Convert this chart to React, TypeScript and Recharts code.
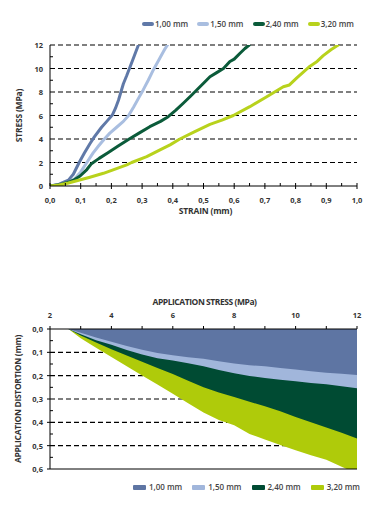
import React from 'react';
import {
  LineChart, Line, AreaChart, Area, XAxis, YAxis, CartesianGrid, ReferenceLine,
} from 'recharts';

// ---------- Top chart: stress vs strain ----------
const seriesNames = ['1,00 mm', '1,50 mm', '2,40 mm', '3,20 mm'];
const lineColors = ['#6079A8', '#A9BEE0', '#0B5B3A', '#B8D21C'];
const areaColors = ['#5E75A3', '#A1B6DB', '#004B33', '#AFCB0A'];

const curve100 = [
  [0, 0], [0.03, 0.15], [0.06, 0.5], [0.076, 1.0], [0.095, 2.0], [0.112, 2.8], [0.13, 3.6],
  [0.145, 4.2], [0.168, 5.0], [0.185, 5.5], [0.203, 6.04], [0.213, 6.6], [0.223, 7.3],
  [0.231, 8.0], [0.239, 8.7], [0.25, 9.4], [0.261, 10.15], [0.275, 11.1], [0.288, 12],
];
const curve150 = [
  [0, 0], [0.04, 0.15], [0.06, 0.3], [0.08, 0.6], [0.1, 1.2], [0.12, 2.0], [0.14, 2.8],
  [0.158, 3.4], [0.177, 4.0], [0.195, 4.5], [0.217, 5.0], [0.239, 5.5], [0.256, 6.0],
  [0.273, 6.75], [0.289, 7.5], [0.304, 8.2], [0.32, 9.0], [0.337, 9.9], [0.358, 10.9],
  [0.375, 11.7], [0.383, 12],
];
const curve240 = [
  [0, 0], [0.03, 0.1], [0.065, 0.37], [0.08, 0.55], [0.098, 0.85], [0.12, 1.4], [0.135, 1.9],
  [0.16, 2.35], [0.19, 2.85], [0.222, 3.4], [0.258, 4.0], [0.29, 4.5], [0.325, 5.05],
  [0.36, 5.5], [0.385, 5.9], [0.41, 6.45], [0.434, 7.04], [0.456, 7.6], [0.478, 8.17],
  [0.5, 8.75], [0.521, 9.3], [0.543, 9.65], [0.565, 10.0], [0.586, 10.6], [0.6, 10.8],
  [0.619, 11.3], [0.635, 11.7], [0.649, 12],
];
const curve320 = [
  [0, 0], [0.03, 0.08], [0.06, 0.25], [0.087, 0.45], [0.13, 0.75], [0.174, 1.08], [0.21, 1.42],
  [0.25, 1.8], [0.266, 2.0], [0.315, 2.5], [0.36, 3.1], [0.391, 3.5], [0.423, 4.0],
  [0.47, 4.6], [0.521, 5.25], [0.56, 5.6], [0.597, 6.0], [0.651, 6.75], [0.706, 7.6],
  [0.76, 8.45], [0.78, 8.6], [0.804, 9.2], [0.847, 10.2], [0.87, 10.6], [0.89, 11.1],
  [0.915, 11.6], [0.939, 12],
];
const strainCurves = [curve100, curve150, curve240, curve320];

const strainTicks = [
  0, 0.05, 0.1, 0.15, 0.2, 0.25, 0.3, 0.35, 0.4, 0.45, 0.5,
  0.55, 0.6, 0.65, 0.7, 0.75, 0.8, 0.85, 0.9, 0.95, 1.0,
];
const stressTicks = [0, 1, 2, 3, 4, 5, 6, 7, 8, 9, 10, 11, 12];
const stressGrid = [2, 4, 6, 8, 10, 12];

// ---------- Bottom chart: distortion vs application stress ----------
const appStress = [2.6, 3, 3.5, 4, 4.5, 5, 5.5, 6, 6.5, 7, 7.5, 8, 8.5, 9, 9.5, 10, 10.5, 11, 11.5, 12];
const dist100 = [0, 0.016, 0.036, 0.055, 0.073, 0.089, 0.103, 0.113, 0.121, 0.128, 0.138, 0.148, 0.155, 0.16, 0.167, 0.174, 0.181, 0.187, 0.192, 0.197];
const dist150 = [0, 0.022, 0.048, 0.068, 0.09, 0.109, 0.125, 0.135, 0.147, 0.16, 0.176, 0.19, 0.201, 0.21, 0.217, 0.224, 0.231, 0.237, 0.245, 0.254];
const dist240 = [0, 0.028, 0.058, 0.087, 0.114, 0.14, 0.167, 0.193, 0.222, 0.25, 0.272, 0.291, 0.312, 0.331, 0.353, 0.377, 0.4, 0.422, 0.445, 0.469];
const dist320 = [0, 0.04, 0.08, 0.12, 0.16, 0.199, 0.238, 0.277, 0.318, 0.358, 0.39, 0.413, 0.45, 0.474, 0.497, 0.52, 0.541, 0.56, 0.59, 0.62];

const appStressTicks = [2, 3, 4, 5, 6, 7, 8, 9, 10, 11, 12];
const distTicks = [0, 0.05, 0.1, 0.15, 0.2, 0.25, 0.3, 0.35, 0.4, 0.45, 0.5, 0.55, 0.6];
const distGrid = [0.1, 0.2, 0.3, 0.4, 0.5];

const areaData = appStress.map((s, i) => ({
  stress: s,
  d0: dist100[i],
  d1: dist150[i],
  d2: dist240[i],
  d3: dist320[i],
}));

// ---------- styling ----------
const FONT = '"Open Sans", "Noto Sans", sans-serif';
const TXT = '#333';
const fmt1 = (v: number) => v.toFixed(1).replace('.', ',');
const isTenth = (v: number) => Math.round(v * 100) % 10 === 0;

const tickText = { fontFamily: FONT, fontSize: 7.5, fontWeight: 700, fill: TXT } as const;

const StrainTick = (p: any) => {
  const { x, y, payload } = p;
  const v = payload.value as number;
  const major = isTenth(v);
  return (
    <g>
      <line x1={x} x2={x} y1={y - 3} y2={major ? y + 3 : y} stroke="#000" strokeWidth={1} />
      {major && (
        <text x={x} y={y + 17} textAnchor="middle" style={tickText}>
          {fmt1(v)}
        </text>
      )}
    </g>
  );
};

const StressTick = (p: any) => {
  const { x, y, payload } = p;
  const v = payload.value as number;
  const major = v % 2 === 0;
  return (
    <g>
      {major ? (
        <text x={x - 7} y={y + 3} textAnchor="end" style={tickText}>
          {v}
        </text>
      ) : (
        <line x1={x} x2={x + 3} y1={y} y2={y} stroke="#000" strokeWidth={1} />
      )}
    </g>
  );
};

const AppStressTick = (p: any) => {
  const { x, y, payload } = p;
  const v = payload.value as number;
  const major = v % 2 === 0;
  return (
    <g>
      <line x1={x} x2={x} y1={y} y2={y - 3} stroke="#000" strokeWidth={1} />
      {major && (
        <text x={x} y={y - 11} textAnchor="middle" style={tickText}>
          {v}
        </text>
      )}
    </g>
  );
};

const DistTick = (p: any) => {
  const { x, y, payload } = p;
  const v = payload.value as number;
  const major = isTenth(v);
  return (
    <g>
      {major ? (
        <>
          <line x1={x - 3} x2={x} y1={y} y2={y} stroke="#000" strokeWidth={1} />
          <text x={x - 7} y={y + 3} textAnchor="end" style={tickText}>
            {fmt1(v)}
          </text>
        </>
      ) : (
        <line x1={x} x2={x + 3} y1={y} y2={y} stroke="#000" strokeWidth={1} />
      )}
    </g>
  );
};

const titleStyle = {
  fontFamily: FONT,
  fontSize: 8.5,
  fontWeight: 700,
  fill: TXT,
  letterSpacing: -0.2,
} as const;

const LegendRow = ({ top, left, kind }: { top: number; left: number; kind: 'line' | 'rect' }) => (
  <div
    style={{
      position: 'absolute',
      top,
      left,
      display: 'flex',
      alignItems: 'center',
      fontFamily: FONT,
      fontSize: 8,
      fontWeight: 600,
      color: '#444',
      whiteSpace: 'nowrap',
      lineHeight: '10px',
    }}
  >
    {seriesNames.map((n, i) => (
      <div key={n} style={{ display: 'flex', alignItems: 'center', marginRight: i < 3 ? (kind === 'line' ? 9 : 10) : 0 }}>
        <span
          style={{
            display: 'inline-block',
            width: kind === 'line' ? 12 : 13,
            height: kind === 'line' ? 4 : 5,
            borderRadius: kind === 'line' ? 2 : 1,
            background: kind === 'line' ? lineColors[i] : areaColors[i],
            marginRight: kind === 'line' ? 1 : 3,
          }}
        />
        <span>{n}</span>
      </div>
    ))}
  </div>
);

export default function App() {
  return (
    <div style={{ position: 'relative', width: 374, height: 513, background: '#fff', overflow: 'hidden' }}>
      <style>{`body{margin:0;background:#fff}`}</style>

      <LegendRow top={19} left={142} kind="line" />

      <div style={{ position: 'absolute', top: 0, left: 0 }}>
        <LineChart width={374} height={240} margin={{ top: 45, right: 17, bottom: 24, left: 0 }}>
          <CartesianGrid
            vertical={false}
            horizontalValues={stressGrid}
            stroke="#000"
            strokeDasharray="5 3"
            strokeWidth={1.1}
          />
          <XAxis
            type="number"
            dataKey="x"
            domain={[0, 1]}
            ticks={strainTicks}
            interval={0}
            tickSize={0}
            tickMargin={0}
            tickLine={false}
            tick={(p: any) => <StrainTick {...p} />}
            axisLine={{ stroke: '#000', strokeWidth: 1 }}
            height={30}
            allowDataOverflow
            label={(p: any) => {
              const vb = p.viewBox || {};
              return (
                <text x={vb.x + vb.width / 2 + 2} y={vb.y + 28} textAnchor="middle" style={titleStyle}>
                  STRAIN (mm)
                </text>
              );
            }}
          />
          <YAxis
            type="number"
            dataKey="y"
            domain={[0, 12]}
            ticks={stressTicks}
            interval={0}
            tickSize={0}
            tickMargin={0}
            tickLine={false}
            tick={(p: any) => <StressTick {...p} />}
            axisLine={{ stroke: '#000', strokeWidth: 1 }}
            width={50}
            allowDataOverflow
            label={(p: any) => {
              const vb = p.viewBox || {};
              const cx = vb.x + 22;
              const cy = vb.y + vb.height / 2;
              return (
                <text x={cx} y={cy} textAnchor="middle" transform={`rotate(-90 ${cx} ${cy})`} style={titleStyle}>
                  STRESS (MPa)
                </text>
              );
            }}
          />
          {strainCurves.map((c, i) => (
            <Line
              key={seriesNames[i]}
              data={c.map(([x, y]) => ({ x, y }))}
              dataKey="y"
              type="linear"
              stroke={lineColors[i]}
              strokeWidth={3}
              strokeLinecap="round"
              strokeLinejoin="round"
              dot={false}
              activeDot={false}
              isAnimationActive={false}
            />
          ))}
        </LineChart>
      </div>

      <div style={{ position: 'absolute', top: 260, left: 0 }}>
        <AreaChart width={374} height={253} data={areaData} margin={{ top: 34, right: 17, bottom: 44, left: 0 }}>
          <CartesianGrid
            vertical={false}
            horizontalValues={distGrid}
            stroke="#000"
            strokeDasharray="5 3"
            strokeWidth={1.1}
          />
          <XAxis
            type="number"
            dataKey="stress"
            orientation="top"
            domain={[2, 12]}
            ticks={appStressTicks}
            interval={0}
            tickSize={0}
            tickMargin={0}
            tickLine={false}
            tick={(p: any) => <AppStressTick {...p} />}
            axisLine={{ stroke: '#000', strokeWidth: 1 }}
            height={35}
            label={(p: any) => {
              const vb = p.viewBox || {};
              return (
                <text x={vb.x + vb.width / 2 + 1} y={vb.y + 11} textAnchor="middle" style={{ ...titleStyle, letterSpacing: -0.45 }}>
                  APPLICATION STRESS (MPa)
                </text>
              );
            }}
          />
          <YAxis
            type="number"
            reversed
            domain={[0, 0.6]}
            ticks={distTicks}
            interval={0}
            tickSize={0}
            tickMargin={0}
            tickLine={false}
            tick={(p: any) => <DistTick {...p} />}
            axisLine={{ stroke: '#000', strokeWidth: 1 }}
            width={50}
            allowDataOverflow
            label={(p: any) => {
              const vb = p.viewBox || {};
              const cx = vb.x + 21;
              const cy = vb.y + vb.height / 2;
              return (
                <text x={cx} y={cy} textAnchor="middle" transform={`rotate(-90 ${cx} ${cy})`} style={{ ...titleStyle, letterSpacing: -0.3 }}>
                  APPLICATION DISTORTION (mm)
                </text>
              );
            }}
          />
          {[3, 2, 1, 0].map((i) => (
            <Area
              key={seriesNames[i]}
              dataKey={`d${i}`}
              type="linear"
              baseValue={0}
              stroke="none"
              fill={areaColors[i]}
              fillOpacity={1}
              dot={false}
              activeDot={false}
              isAnimationActive={false}
            />
          ))}
          <ReferenceLine y={0.6} stroke="#000" strokeWidth={1} />
        </AreaChart>
      </div>

      <LegendRow top={482} left={133} kind="rect" />
    </div>
  );
}
